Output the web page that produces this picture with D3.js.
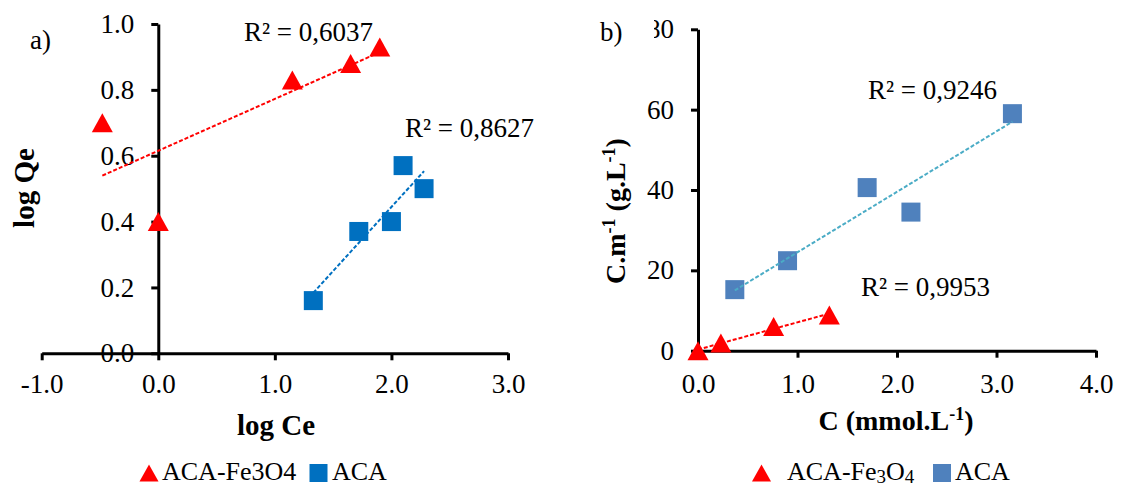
<!DOCTYPE html>
<html>
<head>
<meta charset="utf-8">
<script src="https://cdn.jsdelivr.net/npm/d3@7"></script>
<style>
  body { margin: 0; background: #fff; }
  text { font-family: "Liberation Serif", "Times New Roman", serif; fill: #000; }
</style>
</head>
<body>
<div id="chart"></div>
<script>
// panel a) log Qe vs log Ce
const a_fe_logCe = [-0.48, 0.00, 1.15, 1.65, 1.90];
const a_fe_logQe = [0.70, 0.40, 0.83, 0.88, 0.93];
const a_aca_logCe = [1.33, 1.72, 2.00, 2.10, 2.28];
const a_aca_logQe = [0.16, 0.37, 0.40, 0.57, 0.50];
const a_xTicks = [-1, 0, 1, 2, 3];
const a_yTicks = [0, 0.2, 0.4, 0.6, 0.8, 1.0];
const a_r2 = ["R² = 0,6037", "R² = 0,8627"];

// panel b) C/m vs C
const b_fe_C = [0.00, 0.23, 0.76, 1.32];
const b_fe_Cm = [0.0, 1.9, 6.0, 8.9];
const b_aca_C = [0.37, 0.90, 1.70, 2.14, 3.16];
const b_aca_Cm = [15.2, 22.4, 40.6, 34.5, 59.0];
const b_xTicks = [0, 1, 2, 3, 4];
const b_yTicks = [0, 20, 40, 60, 80];
const b_r2 = ["R² = 0,9246", "R² = 0,9953"];

const width = 1121, height = 486;
const svg = d3.select("#chart").append("svg")
    .attr("width", width).attr("height", height)
    .attr("viewBox", [0, 0, width, height]);

// least squares line between the min and max x of a series
const fitLine = (xs, ys) => {
    const mx = d3.mean(xs), my = d3.mean(ys);
    const sxy = d3.sum(xs, (x, i) => (x - mx) * (ys[i] - my));
    const sxx = d3.sum(xs, x => (x - mx) ** 2);
    const b = sxy / sxx, a = my - b * mx;
    const [x0, x1] = d3.extent(xs);
    return [[x0, a + b * x0], [x1, a + b * x1]];
};

const triangle = (w, h) => `M0,${-h / 2}L${w / 2},${h / 2}L${-w / 2},${h / 2}Z`;
const fmt1 = d => d3.format(".1f")(d).replace("−", "-");

const panel = (p) => {
    const x = d3.scaleLinear().domain(p.xDomain).range(p.xRange);
    const y = d3.scaleLinear().domain(p.yDomain).range(p.yRange);
    const g = svg.append("g");

    const xAxis = g.append("g")
        .attr("transform", `translate(0,${y(0)})`)
        .call(d3.axisBottom(x).tickValues(p.xTicks).tickFormat(fmt1)
            .tickSize(7).tickSizeOuter(0).tickPadding(p.xPad));
    const yAxis = g.append("g")
        .attr("transform", `translate(${x(0)},0)`)
        .call(d3.axisLeft(y).tickValues(p.yTicks).tickFormat(p.yFormat)
            .tickSize(7).tickSizeOuter(0).tickPadding(17));
    [xAxis, yAxis].forEach(ax => {
        ax.select(".domain").attr("stroke", "#000").attr("stroke-width", 3);
        ax.selectAll(".tick line").attr("stroke", "#000").attr("stroke-width", 3);
        ax.selectAll(".tick text").attr("font-size", 27).attr("font-family", null).attr("fill", "#000");
    });
    if (p.clipTop) {
        // top tick label is partly hidden in the original
        const top = p.yTicks[p.yTicks.length - 1];
        svg.append("clipPath").attr("id", "clipTop")
            .append("rect").attr("x", p.clipTop - x(0)).attr("y", -30).attr("width", 100).attr("height", 60);
        yAxis.selectAll(".tick").filter(d => d === top)
            .select("text").attr("clip-path", "url(#clipTop)");
    }

    // markers
    g.selectAll(".tri").data(p.fe[0]).join("path")
        .attr("transform", (d, i) => `translate(${x(d)},${y(p.fe[1][i])})`)
        .attr("d", triangle(21, 19)).attr("fill", "#FF0000");
    g.selectAll(".sq").data(p.aca[0]).join("rect")
        .attr("x", d => x(d) - 9.5).attr("y", (d, i) => y(p.aca[1][i]) - 9.5)
        .attr("width", 19).attr("height", 19).attr("fill", p.acaColor);

    // trendlines
    const line = d3.line().x(d => x(d[0])).y(d => y(d[1]));
    g.append("path").datum(fitLine(...p.fe)).attr("d", line)
        .attr("stroke", "#FF0000").attr("stroke-width", 2).attr("stroke-dasharray", "4,2").attr("fill", "none");
    g.append("path").datum(fitLine(...p.aca)).attr("d", line)
        .attr("stroke", p.trendColor).attr("stroke-width", 2).attr("stroke-dasharray", "4,2").attr("fill", "none");

    // labels
    g.append("text").attr("x", p.tag[1]).attr("y", p.tag[2]).attr("font-size", 27).text(p.tag[0]);
    p.r2.forEach((t, i) => g.append("text").attr("x", p.r2Pos[i][0]).attr("y", p.r2Pos[i][1])
        .attr("font-size", 27).text(t));

    const xt = g.append("text").attr("x", p.xTitlePos[0]).attr("y", p.xTitlePos[1])
        .attr("text-anchor", "middle").attr("font-size", p.titleSize).attr("font-weight", "bold");
    p.xTitle.forEach(s => xt.append("tspan").attr("baseline-shift", s[1] ? "super" : null)
        .attr("font-size", s[1] ? 18 : null).text(s[0]));
    const yt = g.append("text").attr("transform", `translate(${p.yTitlePos[0]},${p.yTitlePos[1]}) rotate(-90)`)
        .attr("text-anchor", "middle").attr("font-size", p.titleSize).attr("font-weight", "bold");
    p.yTitle.forEach(s => yt.append("tspan").attr("baseline-shift", s[1] ? "super" : null)
        .attr("font-size", s[1] ? 18 : null).text(s[0]));

    // legend
    const lg = g.append("g").attr("transform", `translate(0,${p.legendY})`);
    lg.append("path").attr("transform", `translate(${p.legend[0]},0)`).attr("d", triangle(19, 17)).attr("fill", "#FF0000");
    const l1 = lg.append("text").attr("x", p.legend[1]).attr("y", 7).attr("font-size", 26);
    p.legendFe.forEach(s => l1.append("tspan").attr("dy", s[1] ? 3 : (s[2] ? -3 : null))
        .attr("font-size", s[1] ? 19 : null).text(s[0]));
    lg.append("rect").attr("x", p.legend[2] - 9).attr("y", -9).attr("width", 18).attr("height", 18).attr("fill", p.acaColor);
    lg.append("text").attr("x", p.legend[3]).attr("y", 7).attr("font-size", 26).text("ACA");
};

panel({
    xDomain: [-1, 3], xRange: [41.7, 508], yDomain: [0, 1], yRange: [353.3, 24],
    xTicks: a_xTicks, yTicks: a_yTicks, yFormat: fmt1, xPad: 14,
    fe: [a_fe_logCe, a_fe_logQe], aca: [a_aca_logCe, a_aca_logQe],
    acaColor: "#0070C0", trendColor: "#0070C0",
    tag: ["a)", 30, 49], r2: a_r2, r2Pos: [[244, 41], [405, 137]],
    titleSize: 29,
    xTitle: [["log Ce"]], xTitlePos: [276, 435],
    yTitle: [["log Qe"]], yTitlePos: [34, 188],
    legendY: 473, legend: [149, 162, 318.5, 332],
    legendFe: [["ACA-Fe3O4"]]
});

panel({
    xDomain: [0, 4], xRange: [698, 1096], yDomain: [0, 80], yRange: [350.7, 29.3],
    xTicks: b_xTicks, yTicks: b_yTicks, yFormat: d3.format("d"), xPad: 16,
    fe: [b_fe_C, b_fe_Cm], aca: [b_aca_C, b_aca_Cm],
    acaColor: "#4F81BD", trendColor: "#4BACC6",
    tag: ["b)", 600, 41], r2: b_r2, r2Pos: [[868, 99], [861, 296]],
    titleSize: 28,
    xTitle: [["C (mmol.L"], ["-1", true], [")"]], xTitlePos: [896, 430],
    yTitle: [["C.m"], ["-1", true], [" (g.L"], ["-1", true], [")"]], yTitlePos: [625, 211],
    legendY: 473, legend: [761.5, 787, 942, 955],
    legendFe: [["ACA-Fe"], ["3", true], ["O", false, true], ["4", true]],
    clipTop: 654
});
</script>
</body>
</html>
